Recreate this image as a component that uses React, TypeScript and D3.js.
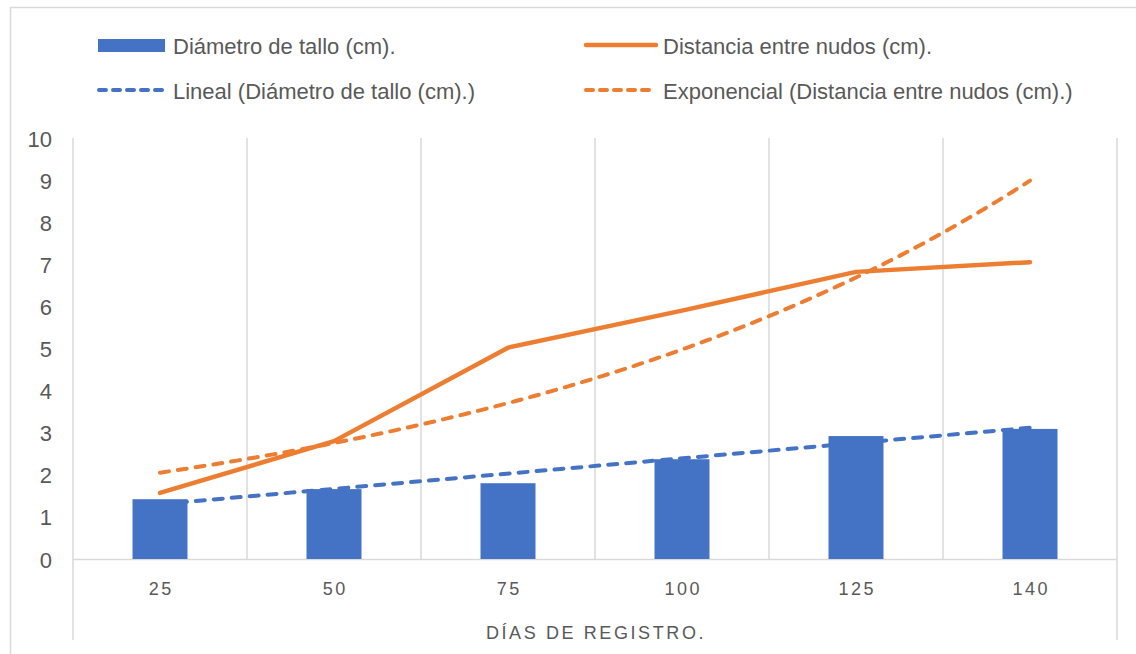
import React from "react";
import * as d3 from "d3";

const categories = ["25", "50", "75", "100", "125", "140"];
const diametro = [1.42, 1.66, 1.8, 2.37, 2.92, 3.09];
const distancia = [1.57, 2.8, 5.02, 5.9, 6.82, 7.05];
const yTicks = [0, 1, 2, 3, 4, 5, 6, 7, 8, 9, 10];

const BLUE = "#4472C4";
const ORANGE = "#ED7D31";
const GRID = "#D9D9D9";
const TEXT = "#595959";
const FONT = "'Liberation Sans', Arial, sans-serif";

function linearFit(ys: number[]) {
  const xs = ys.map((_, i) => i + 1);
  const mx = d3.mean(xs)!;
  const my = d3.mean(ys)!;
  const sxy = d3.sum(xs, (x, i) => (x - mx) * (ys[i] - my));
  const sxx = d3.sum(xs, (x) => (x - mx) * (x - mx));
  const b = sxy / sxx;
  return { a: my - b * mx, b };
}

export default function App() {
  const W = 1136;
  const H = 654;
  const left = 73;
  const right = 1117;
  const top = 138;
  const bottom = 559;

  const x = d3.scaleBand<string>().domain(categories).range([left, right]).padding(0);
  const step = x.step();
  const barW = step * 0.316;
  const cx = (c: string) => x(c)! + step / 2;
  const y = d3.scaleLinear().domain([0, 10]).range([bottom, top]);
  const xi = d3.scaleLinear().domain([1, categories.length]).range([cx(categories[0]), cx(categories[categories.length - 1])]);

  const lin = linearFit(diametro);
  const expFit = linearFit(distancia.map((v) => Math.log(v)));

  const lineGen = d3
    .line<[number, number]>()
    .x((d) => d[0])
    .y((d) => d[1]);

  const distPts: [number, number][] = categories.map((c, i) => [cx(c), y(distancia[i])]);
  const linPts: [number, number][] = [1, categories.length].map((t) => [xi(t), y(lin.a + lin.b * t)]);
  const expPts: [number, number][] = d3
    .range(0, 101)
    .map((k) => 1 + (k / 100) * (categories.length - 1))
    .map((t) => [xi(t), y(Math.exp(expFit.a + expFit.b * t))]);

  const legendFont = 22;

  return (
    <svg
      width={W}
      height={H}
      style={{ position: "absolute", left: 0, top: 0, background: "#fff" }}
      fontFamily={FONT}
    >
      <rect x={0} y={0} width={W} height={H} fill="#fff" />
      {/* outer frame */}
      <rect x={10.5} y={7.5} width={W + 20} height={H + 20} fill="none" stroke={GRID} strokeWidth={1.5} />

      {/* legend */}
      <g fill={TEXT} fontSize={legendFont}>
        <rect x={98} y={39} width={67} height={13} fill={BLUE} />
        <text x={173} y={46} dominantBaseline="central">Diámetro de tallo (cm).</text>
        <line x1={586} x2={656} y1={45} y2={45} stroke={ORANGE} strokeWidth={4.5} strokeLinecap="round" />
        <text x={663} y={46} dominantBaseline="central">Distancia entre nudos (cm).</text>
        <line x1={99} x2={166} y1={90} y2={90} stroke={BLUE} strokeWidth={4} strokeLinecap="round" strokeDasharray="7 7" />
        <text x={173} y={91} dominantBaseline="central">Lineal (Diámetro de tallo (cm).)</text>
        <line x1={586} x2={656} y1={90} y2={90} stroke={ORANGE} strokeWidth={4} strokeLinecap="round" strokeDasharray="7 7" />
        <text x={663} y={91} dominantBaseline="central">Exponencial (Distancia entre nudos (cm).)</text>
      </g>

      {/* vertical gridlines */}
      <g stroke={GRID} strokeWidth={1.5}>
        {categories.slice(1).map((c) => (
          <line key={c} x1={x(c)!} x2={x(c)!} y1={top} y2={bottom} />
        ))}
        <line x1={left} x2={left} y1={top} y2={640} />
        <line x1={right} x2={right} y1={top} y2={640} />
        <line x1={left} x2={right} y1={bottom + 0.5} y2={bottom + 0.5} />
      </g>

      {/* y ticks */}
      <g fill={TEXT} fontSize={22} textAnchor="end">
        {yTicks.map((t) => (
          <text key={t} x={52} y={y(t) + 1} dominantBaseline="central">
            {t}
          </text>
        ))}
      </g>

      {/* bars */}
      <g fill={BLUE}>
        {categories.map((c, i) => (
          <rect key={c} x={cx(c) - barW / 2} y={y(diametro[i])} width={barW} height={bottom - y(diametro[i])} />
        ))}
      </g>

      {/* series line */}
      <path d={lineGen(distPts)!} fill="none" stroke={ORANGE} strokeWidth={4.5} strokeLinecap="round" strokeLinejoin="round" />

      {/* trendlines */}
      <path d={lineGen(linPts)!} fill="none" stroke={BLUE} strokeWidth={4} strokeLinecap="round" strokeDasharray="9 9" />
      <path d={lineGen(expPts)!} fill="none" stroke={ORANGE} strokeWidth={4} strokeLinecap="round" strokeDasharray="9 9" />

      {/* x tick labels */}
      <g fill={TEXT} fontSize={18} textAnchor="middle" letterSpacing={2.6}>
        {categories.map((c) => (
          <text key={c} x={cx(c) + 1.3} y={589} dominantBaseline="central">
            {c}
          </text>
        ))}
        <text x={596} y={633} dominantBaseline="central">DÍAS DE REGISTRO.</text>
      </g>
    </svg>
  );
}
